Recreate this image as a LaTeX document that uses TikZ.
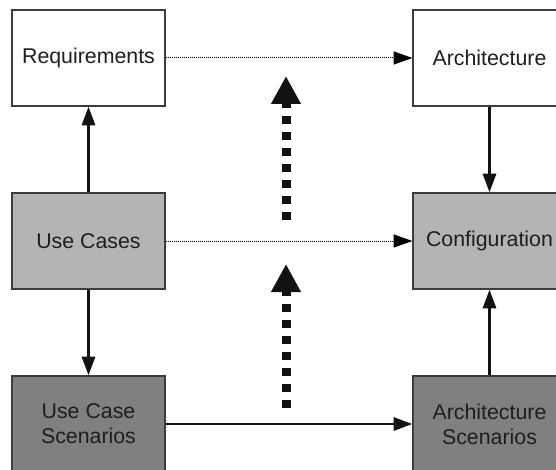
\documentclass[tikz,border=0pt]{standalone}
\usepackage{fontspec}
\setmainfont{Liberation Sans}
\usetikzlibrary{arrows.meta}
\definecolor{boxline}{HTML}{3C3C3C}
\definecolor{lightfill}{HTML}{B4B4B4}
\definecolor{darkfill}{HTML}{808080}
\definecolor{inktext}{HTML}{1E1E1E}
\tikzset{
  box/.style={draw=boxline, line width=0.9pt, rectangle,
    minimum width=114.75pt, minimum height=72pt, inner sep=0pt,
    align=center, text=inktext,
    font=\fontsize{16}{18.75}\selectfont},
  plainbox/.style={box, fill=white},
  lightbox/.style={box, fill=lightfill},
  darkbox/.style={box, fill=darkfill},
  flow/.style={line width=2.1pt, black!93,
    -{Triangle[length=14pt, width=9.75pt]}},
  trace/.style={line width=0.75pt, black, dash pattern=on 0.75pt off 0.75pt,
    -{Triangle[length=14pt, width=9.75pt]}},
  refine/.style={line width=6.75pt, black!93, dash pattern=on 6pt off 6pt,
    -{Triangle[length=21pt, width=21pt]}}
}
\begin{document}
\begin{tikzpicture}[x=0.75pt, y=-0.75pt]
  \useasboundingbox (0,0) rectangle (556,470);
  \clip (0,0) rectangle (556,470);

  % boxes
  \node[plainbox] (req)  at (88.5, 58)  {Requirements};
  \node[plainbox] (arch) at (489.5, 58) {Architecture};
  \node[lightbox] (uc)   at (88.5, 241) {Use Cases};
  \node[lightbox] (conf) at (489.5, 241) {Configuration};
  \node[darkbox]  (ucs)  at (88.5, 424) {Use Case\\Scenarios};
  \node[darkbox]  (as)   at (489.5, 424) {Architecture\\Scenarios};

  % dependencies between the boxes
  \draw[flow] (uc) -- (req);
  \draw[flow] (uc) -- (ucs);
  \draw[flow] (ucs) -- (as);
  \draw[flow] (as) -- (conf);
  \draw[flow] (arch) -- (conf);
  \draw[trace] (req) -- (arch);
  \draw[trace] (uc) -- (conf);

  % refinement arrows between the rows
  \coordinate (up1s) at (286, 220);
  \coordinate (up1e) at (286, 76);
  \coordinate (up2s) at (286, 408);
  \coordinate (up2e) at (286, 264);
  \draw[refine] (up1s) -- (up1e);
  \draw[refine] (up2s) -- (up2e);
\end{tikzpicture}
\end{document}
